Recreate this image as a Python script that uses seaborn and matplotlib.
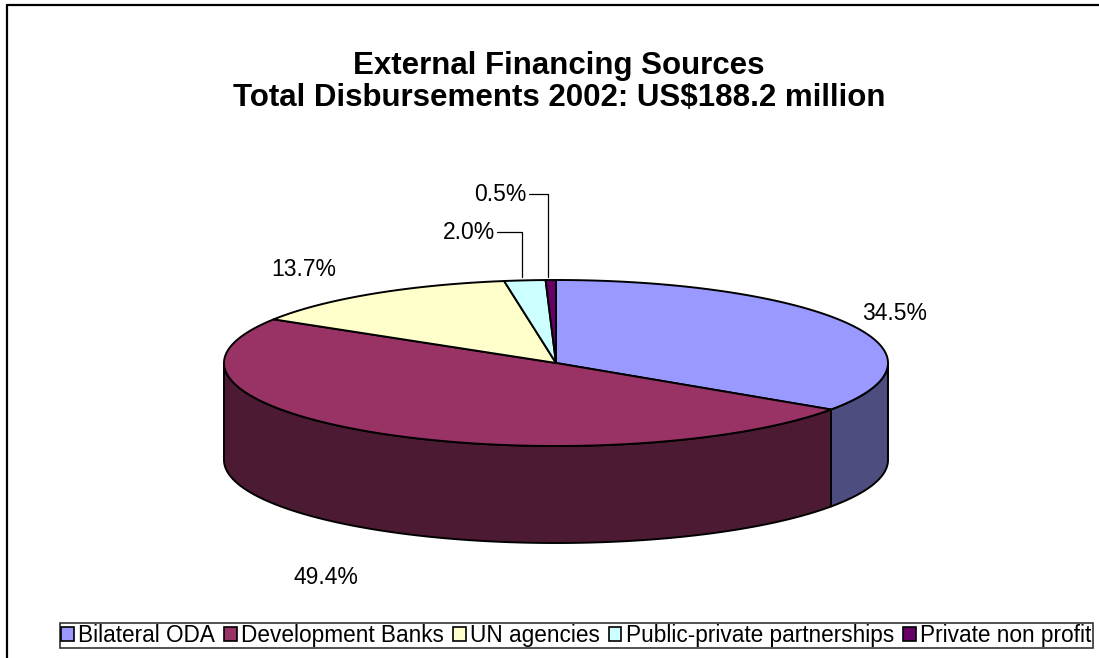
import numpy as np
import matplotlib
matplotlib.use("Agg")
import matplotlib.pyplot as plt
from matplotlib.patches import Polygon, Patch
from matplotlib.lines import Line2D
import seaborn as sns

# Disbursement shares by source (percent of US$188.2 million, 2002)
sources = ["Bilateral ODA", "Development Banks", "UN agencies",
           "Public-private partnerships", "Private non profit"]
shares = [34.5, 49.4, 13.7, 2.0, 0.5]
pct_labels = ["34.5%", "49.4%", "13.7%", "2.0%", "0.5%"]

title_lines = ["External Financing Sources",
               "Total Disbursements 2002: US$188.2 million"]

top_colors = ["#9999FF", "#993366", "#FFFFCC", "#CCFFFF", "#660066"]

sns.set_theme(style="white")
plt.rcParams["font.family"] = ["Liberation Sans", "DejaVu Sans"]
plt.rcParams["text.color"] = "black"

palette = sns.color_palette(top_colors)
side_palette = [tuple(c * 0.5 for c in col) for col in palette]

W, H = 1099, 658
fig = plt.figure(figsize=(W / 100, H / 100), dpi=100)
ax = fig.add_axes([0, 0, 1, 1])
ax.set_xlim(0, W)
ax.set_ylim(H, 0)
ax.axis("off")

# chart area frame (top and left edges visible)
ax.add_line(Line2D([7, W], [5, 5], color="black", lw=1.6))
ax.add_line(Line2D([7, 7], [5, H], color="black", lw=1.6))

# title
ax.text(559, 82, "\n".join(title_lines), ha="center", va="center",
        fontsize=22.5, fontweight="bold", linespacing=1.12, color="black")

# 3-D pie geometry (pixels)
cx, cy = 556.0, 363.0
rx, ry = 332.0, 83.0
depth = 97.0
edge_kw = dict(edgecolor="black", linewidth=1.4, joinstyle="round")


def rim(t_deg, drop=0.0):
    t = np.radians(t_deg)
    return cx + rx * np.cos(t), cy - ry * np.sin(t) + drop


fractions = np.asarray(shares, dtype=float) / np.sum(shares)
bounds = []
start = 90.0
for f in fractions:
    end = start - 360.0 * f
    bounds.append((start, end))
    start = end

# outer walls: only the front half (sin < 0) of each slice is seen
for (t1, t2), col in zip(bounds, side_palette):
    lo, hi = min(t1, t2), max(t1, t2)
    for k in (-2, -1, 0, 1):
        a0, a1 = -180.0 + 360.0 * k, 360.0 * k
        s_lo, s_hi = max(lo, a0), min(hi, a1)
        if s_hi - s_lo <= 1e-6:
            continue
        ts = np.linspace(s_hi, s_lo, 120)
        xs, ys = rim(ts)
        xb, yb = rim(ts[::-1], depth)
        pts = np.column_stack([np.concatenate([xs, xb]),
                               np.concatenate([ys, yb])])
        ax.add_patch(Polygon(pts, closed=True, facecolor=col, **edge_kw))

# top faces
for (t1, t2), col in zip(bounds, palette):
    ts = np.linspace(t1, t2, max(int(abs(t1 - t2)) * 2, 4))
    xs, ys = rim(ts)
    pts = np.column_stack([np.concatenate([[cx], xs]),
                           np.concatenate([[cy], ys])])
    ax.add_patch(Polygon(pts, closed=True, facecolor=col, **edge_kw))

# percentage labels, placed outward from each slice's rim midpoint
label_offsets = [(45, -11), (-50, 48), (-68, -24), (-56, -48), (-50, -86)]
leader = [False, False, False, True, True]
for (t1, t2), txt, (dx, dy), has_leader in zip(bounds, pct_labels,
                                                 label_offsets, leader):
    mid = 0.5 * (t1 + t2)
    drop = depth if np.sin(np.radians(mid)) < 0 else 0.0
    px, py = rim(mid, drop)
    if has_leader:
        lx, ly = px + dx, py + dy
        ax.add_line(Line2D([px - 3, px - 3, lx + 28], [py - 3, ly, ly],
                           color="black", lw=0.9))
        ax.text(lx + 26, ly, txt, ha="right", va="center", fontsize=16.5,
                color="black")
    else:
        ax.text(px + dx, py + dy, txt, ha="center", va="center", fontsize=16.5,
                color="black")

# legend
handles = [Patch(facecolor=c, edgecolor="black", linewidth=1.2) for c in palette]
leg = ax.legend(handles, sources, ncol=5, loc="upper left",
                bbox_to_anchor=(60, 623), bbox_transform=ax.transData,
                fontsize=16.3, frameon=True, fancybox=False,
                handlelength=0.55, handleheight=0.55, handletextpad=0.2,
                columnspacing=0.4, borderpad=0.05, borderaxespad=0.0,
                labelcolor="black")
leg.get_frame().set_edgecolor("black")
leg.get_frame().set_linewidth(1.2)

fig.savefig("out.png", dpi=100)
